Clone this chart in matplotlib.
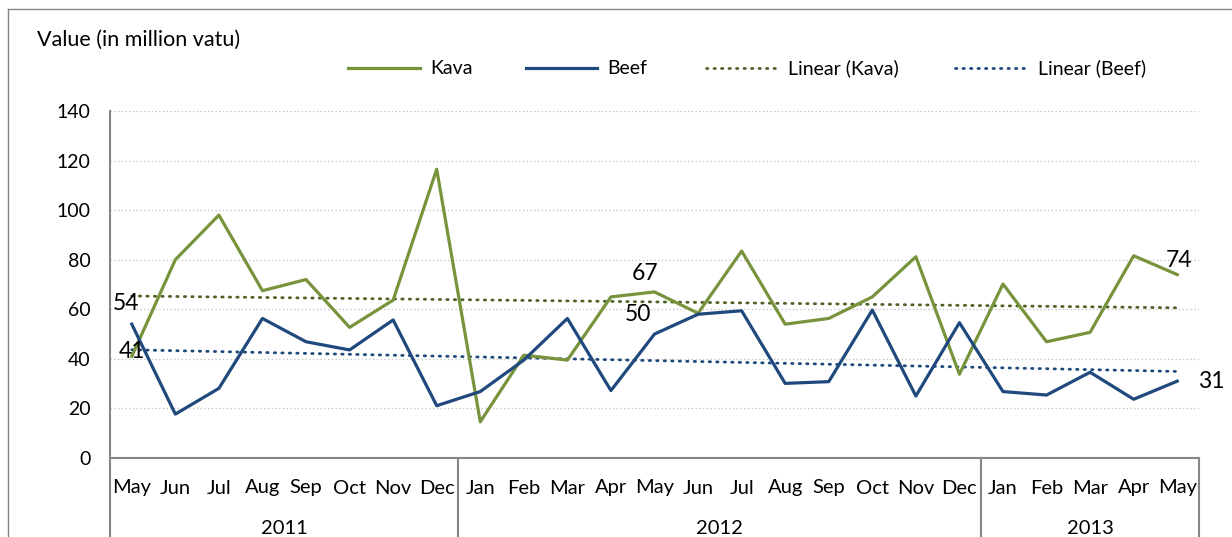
import numpy as np
import matplotlib
matplotlib.use("Agg")
import matplotlib.pyplot as plt
from matplotlib.lines import Line2D
import matplotlib.transforms as mtransforms

plt.rcParams['font.family'] = ['Lato', 'DejaVu Sans']

months = ["May", "Jun", "Jul", "Aug", "Sep", "Oct", "Nov", "Dec",
          "Jan", "Feb", "Mar", "Apr", "May", "Jun", "Jul", "Aug", "Sep", "Oct", "Nov", "Dec",
          "Jan", "Feb", "Mar", "Apr", "May"]
years = ["2011", "2012", "2013"]
year_counts = [8, 12, 5]

kava = [41, 80, 98, 67.5, 72, 52.7, 63.7, 116.5,
        14.6, 41.5, 39.5, 65, 67, 58.4, 83.5, 54, 56.3, 65, 81.2, 33.8,
        70.2, 46.9, 50.7, 81.6, 74]
beef = [54, 17.7, 28.1, 56.3, 46.9, 43.6, 55.7, 21.1,
        26.8, 39.5, 56.3, 27.2, 50, 58, 59.4, 30.1, 30.8, 59.7, 25, 54.6,
        26.8, 25.4, 34.6, 23.7, 31]

KAVA_C = "#77933C"
BEEF_C = "#1F497D"
KAVA_TREND_C = "#4F6228"
GRID_C = "#BFBFBF"
AX_C = "#868686"

W, H = 1232, 537
fig = plt.figure(figsize=(W / 100, H / 100), dpi=100)

# outer chart frame
fig.add_artist(Line2D([8 / W, 8 / W], [0, 1 - 9 / H], transform=fig.transFigure, color=AX_C, lw=1.0))
fig.add_artist(Line2D([8 / W, 1.0], [1 - 9 / H, 1 - 9 / H], transform=fig.transFigure, color=AX_C, lw=1.0))

left, right, top, bottom = 110, 1199, 111, 458
ax = fig.add_axes([left / W, 1 - bottom / H, (right - left) / W, (bottom - top) / H])

x = np.arange(len(months))
ax.set_xlim(-0.5, len(months) - 0.5)
ax.set_ylim(0, 140)

# gridlines
for v in range(20, 141, 20):
    ax.axhline(v, color=GRID_C, lw=0.9, ls=(0, (1, 2)), zorder=0)

ax.plot(x, kava, color=KAVA_C, lw=2.3, label="Kava", zorder=3)
ax.plot(x, beef, color=BEEF_C, lw=2.3, label="Beef", zorder=3)

# linear trend lines (least squares fit, like Excel's linear trendline)
pk = np.polyfit(x, kava, 1)
pb = np.polyfit(x, beef, 1)
ax.plot(x, np.polyval(pk, x), color=KAVA_TREND_C, lw=2.0, ls=(0, (0.5, 2.2)),
        dash_capstyle='round', label="Linear (Kava)", zorder=2)
ax.plot(x, np.polyval(pb, x), color=BEEF_C, lw=2.0, ls=(0, (0.5, 2.2)),
        dash_capstyle='round', label="Linear (Beef)", zorder=2)

for s in ["top", "right"]:
    ax.spines[s].set_visible(False)
for s in ["left", "bottom"]:
    ax.spines[s].set_color(AX_C)
    ax.spines[s].set_linewidth(1.5)

ax.set_yticks(range(0, 141, 20))
ax.tick_params(axis='y', length=0, pad=14, labelsize=14, colors="black")
ax.set_xticks([])

FS = 14.5
# category labels
trans = mtransforms.blended_transform_factory(ax.transData, ax.transAxes)
ph = bottom - top
for i, m in enumerate(months):
    ax.text(i, -30 / ph, m, transform=trans, ha='center', va='center', fontsize=FS)
start = 0
bounds = [-0.5]
for yr, n in zip(years, year_counts):
    ax.text(start + (n - 1) / 2, -70 / ph, yr, transform=trans, ha='center', va='center', fontsize=FS)
    start += n
    bounds.append(start - 0.5)
for b in bounds:
    ax.add_line(Line2D([b, b], [0, -(H - bottom + 2) / ph], transform=trans, color=AX_C,
                       lw=1.5, clip_on=False))

# data labels
lab_fs = 16.5
ax.annotate(f"{beef[0]:.0f}", (0, beef[0]), xytext=(-4, 15), textcoords='offset points',
            ha='center', va='center', fontsize=lab_fs)
ax.annotate(f"{kava[0]:.0f}", (0, kava[0]), xytext=(0, 3.6), textcoords='offset points',
            ha='center', va='center', fontsize=lab_fs)
ax.annotate(f"{kava[12]:.0f}", (12, kava[12]), xytext=(-7, 13), textcoords='offset points',
            ha='center', va='center', fontsize=lab_fs)
ax.annotate(f"{beef[12]:.0f}", (12, beef[12]), xytext=(-12, 14), textcoords='offset points',
            ha='center', va='center', fontsize=lab_fs)
ax.annotate(f"{kava[24]:.0f}", (24, kava[24]), xytext=(1, 10), textcoords='offset points',
            ha='center', va='center', fontsize=lab_fs)
ax.annotate(f"{beef[24]:.0f}", (24, beef[24]), xytext=(24.5, 0), textcoords='offset points',
            ha='center', va='center', fontsize=lab_fs)

# title
fig.text(37 / W, 1 - 40 / H, "Value (in million vatu)", ha='left', va='center', fontsize=15.5)

# legend (drawn manually to match positions)
leg_items = [
    (348, 420, 430, "Kava", KAVA_C, '-'),
    (526, 597, 607, "Beef", BEEF_C, '-'),
    (706, 777, 788, "Linear (Kava)", KAVA_TREND_C, ':'),
    (955, 1027, 1038, "Linear (Beef)", BEEF_C, ':'),
]
ly = 1 - 68 / H
for x0, x1, tx, lab, c, st in leg_items:
    if st == '-':
        fig.add_artist(Line2D([x0 / W, x1 / W], [ly, ly], transform=fig.transFigure, color=c, lw=2.3))
    else:
        fig.add_artist(Line2D([x0 / W, x1 / W], [ly, ly], transform=fig.transFigure, color=c, lw=2.0,
                              ls=(0, (0.5, 2.2)), dash_capstyle='round'))
    fig.text(tx / W, ly, lab, ha='left', va='center', fontsize=14)

fig.savefig("out.png", dpi=100)
